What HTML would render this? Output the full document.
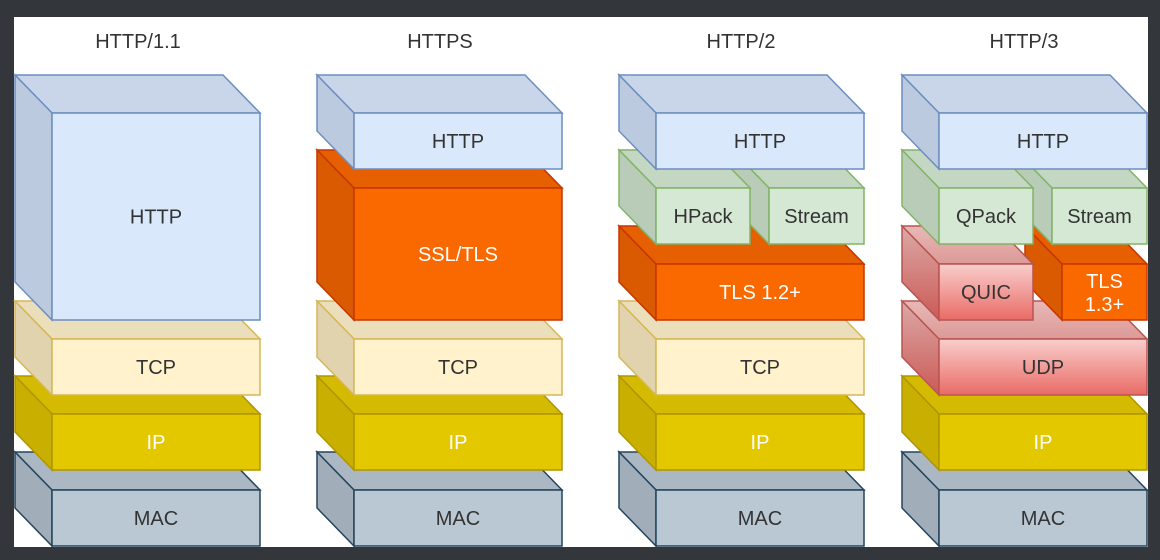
<!DOCTYPE html>
<html><head><meta charset="utf-8"><style>
html,body{margin:0;padding:0;background:#33373b;}
#wrap{position:relative;width:1160px;height:560px;}
svg{position:absolute;left:0;top:0;}
</style></head><body><div id="wrap">
<svg id="s" width="1160" height="560" xmlns="http://www.w3.org/2000/svg" font-family="Liberation Sans, sans-serif">
<defs>
<linearGradient id="rg" x1="0" y1="0" x2="0" y2="1"><stop offset="0" stop-color="#f8cecc"/><stop offset="1" stop-color="#ea6b66"/></linearGradient>
<linearGradient id="rgt" x1="0" y1="0" x2="0" y2="1"><stop offset="0" stop-color="#e8b8b6"/><stop offset="1" stop-color="#dc9a97"/></linearGradient>
<linearGradient id="rgs" x1="0" y1="0" x2="0" y2="1"><stop offset="0" stop-color="#dba9a7"/><stop offset="1" stop-color="#cc5a56"/></linearGradient>
</defs>
<rect x="14" y="17" width="1134" height="530" fill="#ffffff"/>
<g font-size="20" fill="#333" text-anchor="middle">
<text x="138" y="48">HTTP/1.1</text>
<text x="440" y="48">HTTPS</text>
<text x="741" y="48">HTTP/2</text>
<text x="1024" y="48">HTTP/3</text>
</g>
<g id="g"></g>
</svg>
</div>
<script>
var C={
blue:['#dae8fc','#c9d6ea','#bccadf','#6c8ebf','#333'],
yel:['#fff2cc','#ebdfbb','#e0d3ae','#d6b656','#333'],
ip:['#e3c800','#d4ba00','#c9b000','#b09500','#ffffff'],
mac:['#bac8d3','#abb8c3','#a1aeb9','#23445d','#333'],
or:['#fa6800','#e65f00','#d95a00','#c73500','#ffffff'],
gr:['#d5e8d4','#c4d7c3','#b9ccb8','#82b366','#333'],
red:['url(#rg)','url(#rgt)','url(#rgs)','#b85450','#333']
};
var out='';
function cube(bx,by,fw,fh,col,label,fs){
 var c=C[col],d=37,e=38,fx=bx+d,fy=by+e;
 out+='<polygon points="'+bx+','+by+' '+(bx+fw)+','+by+' '+(fx+fw)+','+fy+' '+fx+','+fy+'" fill="'+c[1]+'" stroke="'+c[3]+'" stroke-width="1.5"/>';
 out+='<polygon points="'+bx+','+by+' '+fx+','+fy+' '+fx+','+(fy+fh)+' '+bx+','+(by+fh)+'" fill="'+c[2]+'" stroke="'+c[3]+'" stroke-width="1.5"/>';
 out+='<rect x="'+fx+'" y="'+fy+'" width="'+fw+'" height="'+fh+'" fill="'+c[0]+'" stroke="'+c[3]+'" stroke-width="1.5"/>';
 var lines=label.split('|'),cy=fy+fh/2+7-(lines.length-1)*11;
 lines.forEach(function(l,i){out+='<text x="'+(fx+fw/2)+'" y="'+(cy+i*23)+'" font-size="'+(fs||20)+'" fill="'+c[4]+'" text-anchor="middle">'+l+'</text>';});
}
var X=[15,317,619,902];
X.forEach(function(x){cube(x,452,208,56,'mac','MAC');cube(x,376,208,56,'ip','IP');});
cube(15,301,208,56,'yel','TCP');cube(317,301,208,56,'yel','TCP');cube(619,301,208,56,'yel','TCP');
cube(902,301,208,56,'red','UDP');
cube(15,75,208,207,'blue','HTTP');
cube(317,150,208,132,'or','SSL/TLS');
cube(317,75,208,56,'blue','HTTP');
cube(619,226,208,56,'or','TLS 1.2+');
cube(732,150,95,56,'gr','Stream');
cube(619,150,94,56,'gr','HPack');
cube(619,75,208,56,'blue','HTTP');
cube(1025,226,85,56,'or','TLS|1.3+');
cube(902,226,94,56,'red','QUIC');
cube(1015,150,95,56,'gr','Stream');
cube(902,150,94,56,'gr','QPack');
cube(902,75,208,56,'blue','HTTP');
document.getElementById('g').innerHTML=out;
</script>
</body></html>
